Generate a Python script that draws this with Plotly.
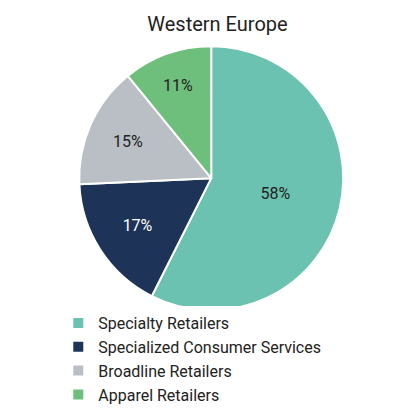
import plotly.graph_objects as go

labels = ["Specialty Retailers", "Specialized Consumer Services", "Broadline Retailers", "Apparel Retailers"]
values = [58, 17, 15, 11]
text_labels = ["58%", "17%", "15%", "11%"]
colors = ["#6cc2b0", "#1e3358", "#b9bfc4", "#6dbf7b"]
text_colors = ["#222222", "#ffffff", "#222222", "#222222"]

fig = go.Figure(go.Pie(
    labels=labels, values=values, text=text_labels,
    texttemplate="%{text}", textposition="inside",
    insidetextfont=dict(color=text_colors, size=16, family="Roboto"),
    marker=dict(colors=colors, line=dict(color="white", width=2)),
    sort=False, direction="clockwise", rotation=0,
    domain=dict(x=[0.170, 0.800], y=[0.270, 0.908]),
))
fig.update_layout(
    width=419, height=414,
    margin=dict(l=0, r=0, t=0, b=0),
    paper_bgcolor="white",
    font=dict(family="Roboto", color="#222222"),
    title=dict(text="Western Europe", x=0.5, xanchor="center", y=0.962, yanchor="middle",
               font=dict(size=20, color="#222222")),
    legend=dict(x=0.12, xanchor="left", y=0.28, yanchor="top",
                font=dict(size=16), itemwidth=30, tracegroupgap=0),
)
fig.write_html("out.html")
